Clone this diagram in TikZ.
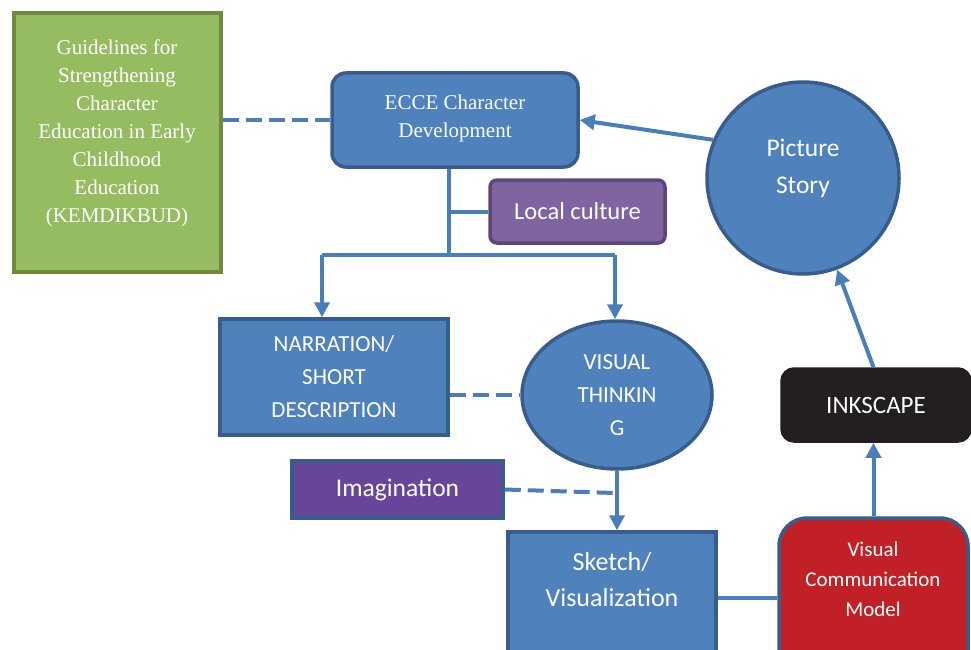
\documentclass[tikz,border=0pt]{standalone}
\usepackage{fontspec}
\setmainfont{Carlito}
\newfontfamily\seriffont{Liberation Serif}
\usepackage{xcolor}
\usetikzlibrary{shapes.geometric, arrows.meta}
\definecolor{bleuboite}{RGB}{79, 129, 189}
\definecolor{bleubord}{RGB}{56, 93, 138}
\definecolor{bleulien}{RGB}{74, 126, 187}
\definecolor{vertboite}{RGB}{150, 188, 98}
\definecolor{vertbord}{RGB}{113, 137, 63}
\definecolor{violetclair}{RGB}{128, 100, 162}
\definecolor{violetbord}{RGB}{92, 71, 118}
\definecolor{violetfonce}{RGB}{102, 69, 155}
\definecolor{rougemodele}{RGB}{192, 32, 38}
\definecolor{noirboite}{RGB}{35, 31, 32}

\tikzset{
  boite/.style={draw=bleubord, line width=3.5pt, fill=bleuboite, text=white, inner sep=0pt},
  serif/.style={font=\seriffont\fontsize{21}{28}\selectfont, text=white, align=center},
  lien/.style={draw=bleulien, line width=4pt},
  fleche/.style={lien, -{Triangle[length=15pt, width=15pt]}},
  tirets/.style={lien, dash pattern=on 16pt off 7pt}
}

\begin{document}
\begin{tikzpicture}[x=1pt, y=-1pt]
  \path[use as bounding box, clip] (0,0) rectangle (971,650);

  % boites
  \node[boite, draw=vertbord, fill=vertboite, minimum width=207, minimum height=259] (guide) at (117.5,142.5) {};
  \node[serif] (guide-txt) at (117,133) {Guidelines for\\Strengthening\\Character\\Education in Early\\Childhood\\Education\\(KEMDIKBUD)};
  \node[boite, rounded corners=14pt, minimum width=246, minimum height=94] (ecce) at (455,120) {};
  \node[serif] (ecce-txt) at (455,118) {ECCE Character\\Development};
  \node[boite, draw=violetbord, fill=violetclair, rounded corners=7pt, minimum width=175, minimum height=63,
        font=\fontsize{24.5}{28}\selectfont] (culture) at (577.5,211.5) {Local culture};
  \node[boite, minimum width=228, minimum height=116, align=center,
        font=\fontsize{23}{33}\selectfont] (narr) at (334,377) {NARRATION/\\SHORT\\DESCRIPTION};
  \node[boite, ellipse, minimum width=190, minimum height=148, align=center,
        font=\fontsize{23}{33}\selectfont] (visuel) at (617,395) {VISUAL\\THINKIN\\G};
  \node[boite, fill=violetfonce, minimum width=211, minimum height=57,
        font=\fontsize{25.5}{28}\selectfont] (imagi) at (397.5,489.5) {Imagination};
  \node[boite, minimum width=208, minimum height=150] (sketch) at (612,607) {};
  \node[align=center, text=white, font=\fontsize{26}{36}\selectfont] (sketch-txt) at (612,580) {Sketch/\\Visualization};
  \node[boite, fill=rougemodele, rounded corners=28pt, minimum width=189, minimum height=172] (modele) at (873.5,604) {};
  \node[align=center, text=white, font=\fontsize{21}{30}\selectfont] (modele-txt) at (873,579) {Visual\\Communication\\Model};
  \node[boite, draw=noirboite, fill=noirboite, rounded corners=12pt, minimum width=188, minimum height=72,
        font=\fontsize{25}{28}\selectfont] (inkscape) at (876,405) {INKSCAPE};
  \node[boite, circle, minimum size=192] (histoire) at (803,178) {};
  \node[align=center, text=white, font=\fontsize{25.5}{37}\selectfont] (histoire-txt) at (803,168.5) {Picture\\Story};

  % liens
  \coordinate (fourche) at (449,255);
  \coordinate (gauche) at (322,255);
  \coordinate (droite) at (615,255);
  \coordinate (imagi-fin) at (615,493);
  \draw[tirets] (guide.east |- ecce.west) -- (ecce.west);
  \draw[lien] (ecce.south -| fourche) -- (fourche);
  \draw[lien] (fourche |- culture.west) -- (culture.west);
  \draw[lien] (gauche) -- (droite);
  \draw[fleche] (gauche) -- (gauche |- narr.north);
  \draw[fleche] (droite) -- (droite |- visuel.north);
  \draw[tirets] (narr.east |- visuel.west) -- (visuel.west);
  \draw[fleche] (visuel.south) -- (visuel.south |- sketch.north);
  \draw[tirets] (imagi.east) -- (imagi-fin);
  \draw[lien] ([yshift=6pt]sketch.east |- modele.west) -- ([yshift=6pt]modele.west);
  \draw[fleche] (modele.north) -- (modele.north |- inkscape.south);
  \draw[fleche] (inkscape.north -| modele.north) -- (histoire);
  \draw[fleche] (histoire.157) -- (ecce.east);
\end{tikzpicture}
\end{document}
